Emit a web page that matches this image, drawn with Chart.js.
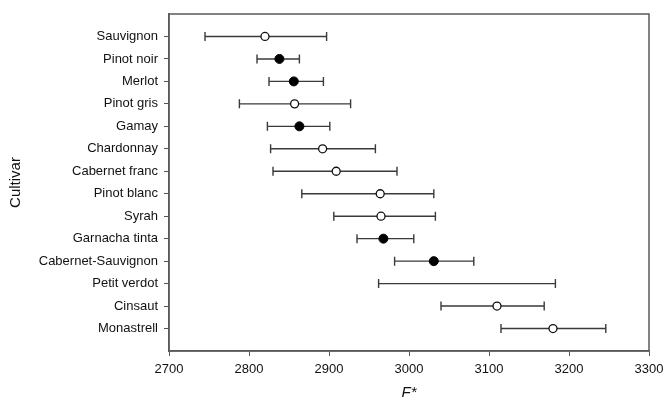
<!DOCTYPE html>
<html>
<head>
<meta charset="utf-8">
<script src="https://cdn.jsdelivr.net/npm/chart.js@4.4.0/dist/chart.umd.min.js"></script>
<style>
  body { margin: 0; background: #fff; }
  canvas { display: block; }
</style>
</head>
<body>
<canvas id="cultivarChart" width="664" height="403"></canvas>
<script>
const cultivars = ['Sauvignon', 'Pinot noir', 'Merlot', 'Pinot gris', 'Gamay', 'Chardonnay', 'Cabernet franc',
  'Pinot blanc', 'Syrah', 'Garnacha tinta', 'Cabernet-Sauvignon', 'Petit verdot', 'Cinsaut', 'Monastrell'];
const means = [2820, 2838, 2856, 2857, 2863, 2892, 2909, 2964, 2965, 2968, 3031, null, 3110, 3180];
const lower = [2745, 2810, 2825, 2788, 2823, 2827, 2830, 2866, 2906, 2935, 2982, 2962, 3040, 3115];
const upper = [2897, 2863, 2893, 2927, 2901, 2958, 2985, 3031, 3033, 3006, 3081, 3183, 3169, 3246];
const filled = [false, true, true, false, true, false, false, false, false, true, true, false, false, false];
const xTicks = [2700, 2800, 2900, 3000, 3100, 3200, 3300];

const ctx = document.getElementById('cultivarChart').getContext('2d');

function points(isFilled) {
  const pts = [];
  cultivars.forEach((c, i) => {
    if (means[i] !== null && filled[i] === isFilled) pts.push({ x: means[i], y: i + 1 });
  });
  return pts;
}

// error bars with caps, drawn through the chart scales
const errorBars = {
  id: 'errorBars',
  beforeDatasetsDraw(chart) {
    const c = chart.ctx, xs = chart.scales.x, ys = chart.scales.y;
    c.save();
    c.strokeStyle = '#3a3a3a';
    c.lineWidth = 1.4;
    cultivars.forEach((name, i) => {
      const y = ys.getPixelForValue(i + 1);
      const x1 = xs.getPixelForValue(lower[i]);
      const x2 = xs.getPixelForValue(upper[i]);
      c.beginPath();
      c.moveTo(x1, y); c.lineTo(x2, y);
      c.moveTo(x1, y - 4.5); c.lineTo(x1, y + 4.5);
      c.moveTo(x2, y - 4.5); c.lineTo(x2, y + 4.5);
      c.stroke();
    });
    c.restore();
  }
};

// box round the plot area
const frame = {
  id: 'frame',
  afterDraw(chart) {
    const a = chart.chartArea, c = chart.ctx;
    c.save();
    c.strokeStyle = '#5a5a5a';
    c.lineWidth = 1.5;
    c.strokeRect(a.left, a.top, a.right - a.left, a.bottom - a.top);
    c.restore();
  }
};

const chart = new Chart(ctx, {
  type: 'scatter',
  data: {
    datasets: [
      {
        label: 'open',
        data: points(false),
        pointRadius: 4,
        pointBackgroundColor: '#fff',
        pointBorderColor: '#111',
        pointBorderWidth: 1.3
      },
      {
        label: 'filled',
        data: points(true),
        pointRadius: 4.5,
        pointBackgroundColor: '#000',
        pointBorderColor: '#000',
        pointBorderWidth: 1
      }
    ]
  },
  options: {
    responsive: false,
    animation: false,
    devicePixelRatio: 1,
    layout: { padding: { top: 14, right: 15, left: 0, bottom: 0 } },
    plugins: { legend: { display: false }, tooltip: { enabled: false } },
    scales: {
      x: {
        type: 'linear',
        min: 2700,
        max: 3300,
        afterBuildTicks: (scale) => { scale.ticks = xTicks.map(v => ({ value: v })); },
        afterFit: (scale) => {
          scale.height = 52;
          scale.paddingLeft = 0;
          scale.paddingRight = 0;
        },
        grid: { display: true, drawOnChartArea: false, drawTicks: true, tickLength: 5, color: '#555' },
        border: { color: '#5a5a5a', width: 1.5 },
        ticks: {
          color: '#111',
          padding: 6,
          font: { family: 'Liberation Sans, Arial', size: 13 },
          callback: (v) => String(v)
        },
        title: {
          display: true,
          text: 'F*',
          color: '#111',
          padding: { top: 0, bottom: 1 },
          font: { family: 'Liberation Sans, Arial', size: 15, style: 'italic' }
        }
      },
      y: {
        type: 'linear',
        min: 0,
        max: 15,
        reverse: true,
        afterBuildTicks: (scale) => { scale.ticks = cultivars.map((c, i) => ({ value: i + 1 })); },
        afterFit: (scale) => { scale.width = 169; },
        grid: { display: true, drawOnChartArea: false, drawTicks: true, tickLength: 5, color: '#555' },
        border: { color: '#5a5a5a', width: 1.5 },
        ticks: {
          autoSkip: false,
          color: '#111',
          padding: 6,
          font: { family: 'Liberation Sans, Arial', size: 13 },
          callback: (v) => cultivars[v - 1]
        },
        title: {
          display: true,
          text: 'Cultivar',
          color: '#111',
          padding: { top: 7, bottom: 0 },
          font: { family: 'Liberation Sans, Arial', size: 15 }
        }
      }
    }
  },
  plugins: [errorBars, frame]
});
</script>
</body>
</html>
